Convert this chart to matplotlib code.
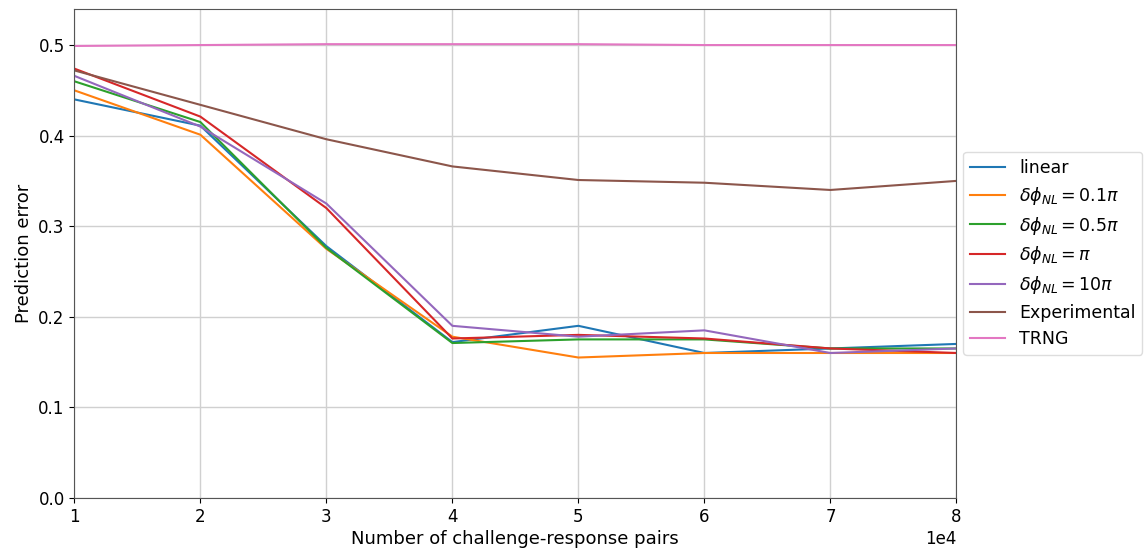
import matplotlib
matplotlib.use("Agg")
import matplotlib.pyplot as plt

# ---------- Data ----------
n_pairs = [1e4, 2e4, 3e4, 4e4, 5e4, 6e4, 7e4, 8e4]

err_linear = [0.440, 0.411, 0.278, 0.172, 0.190, 0.160, 0.165, 0.170]
err_01pi = [0.450, 0.401, 0.275, 0.178, 0.155, 0.160, 0.160, 0.160]
err_05pi = [0.460, 0.415, 0.276, 0.171, 0.175, 0.175, 0.165, 0.165]
err_pi = [0.474, 0.421, 0.320, 0.176, 0.180, 0.176, 0.165, 0.160]
err_10pi = [0.466, 0.410, 0.325, 0.190, 0.178, 0.185, 0.160, 0.165]
err_exp = [0.472, 0.434, 0.396, 0.366, 0.351, 0.348, 0.340, 0.350]
err_trng = [0.499, 0.500, 0.501, 0.501, 0.501, 0.500, 0.500, 0.500]

labels = [
    "linear",
    r"$\delta\phi_{NL} = 0.1\pi$",
    r"$\delta\phi_{NL} = 0.5\pi$",
    r"$\delta\phi_{NL} = \pi$",
    r"$\delta\phi_{NL} = 10\pi$",
    "Experimental",
    "TRNG",
]
series = [err_linear, err_01pi, err_05pi, err_pi, err_10pi, err_exp, err_trng]
colors = ["#1f77b4", "#ff7f0e", "#2ca02c", "#d62728", "#9467bd", "#8c564b", "#e377c2"]

# ---------- Plot ----------
fig = plt.figure(figsize=(11.44, 5.52), dpi=100)
ax = fig.add_axes([0.065, 0.098, 0.771, 0.886])

for vals, lab, c in zip(series, labels, colors):
    ax.plot(n_pairs, vals, color=c, linewidth=1.5, label=lab)

ax.set_xlim(1e4, 8e4)
ax.set_ylim(0, 0.54)
ax.ticklabel_format(axis="x", style="sci", scilimits=(0, 0))
ax.xaxis.get_offset_text().set_fontsize(12)
ax.tick_params(labelsize=12)
ax.set_xlabel("Number of challenge-response pairs", fontsize=13, labelpad=3)
ax.set_ylabel("Prediction error", fontsize=13)
ax.grid(True, color="#d0d0d0", linewidth=1)
for s in ax.spines.values():
    s.set_color("#555555")

ax.legend(loc="center left", bbox_to_anchor=(1.0, 0.5), fontsize=12.5,
          framealpha=1, edgecolor="#dddddd", handlelength=2.0, labelspacing=0.45,
          borderaxespad=0.4)

fig.savefig("out.png", dpi=100)
